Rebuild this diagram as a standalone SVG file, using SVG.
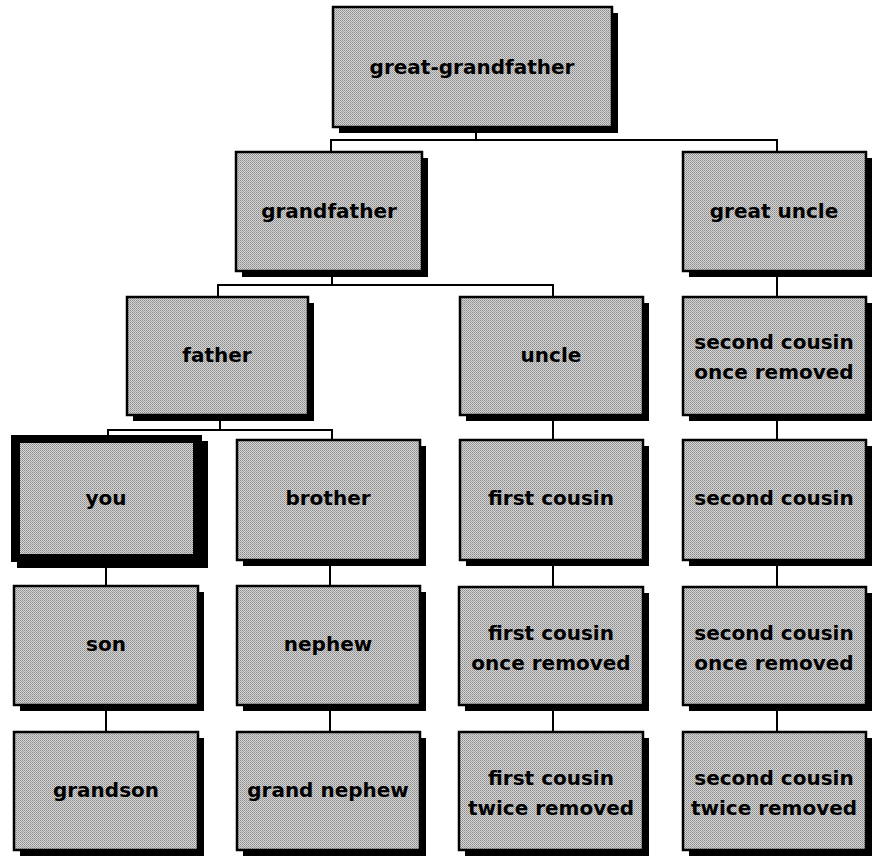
<svg xmlns="http://www.w3.org/2000/svg" width="873" height="856" viewBox="0 0 873 856">
<defs>
<pattern id="dither" width="2" height="2" patternUnits="userSpaceOnUse">
<rect width="2" height="2" fill="#d6d6d6"/>
<rect width="1" height="1" fill="#8a8a8a"/>
<rect x="1" y="1" width="1" height="1" fill="#a0a0a0"/>
</pattern>
</defs>
<style>
.sh{fill:#000}
.bx{fill:url(#dither);stroke:#000;stroke-width:2.5}
.t{font-family:"DejaVu Sans","Liberation Sans",sans-serif;font-size:20px;font-weight:bold;fill:#000;text-anchor:middle}
.c{fill:none;stroke:#000;stroke-width:2}
</style>
<rect width="873" height="856" fill="#fff"/>
<g id="connectors">
<path class="c" d="M476 127V140M331 152V140H777V152"/>
<path class="c" d="M332 271V285M218 297V285H553V297"/>
<path class="c" d="M220 415V430M108 435V430H332V440"/>
<path class="c" d="M106 562V586M106 705V732"/>
<path class="c" d="M330 560V586M330 705V732"/>
<path class="c" d="M553 415V440M553 560V587M553 705V732"/>
<path class="c" d="M777 271V297M777 415V440M777 560V587M777 705V732"/>
</g>
<g id="great-grandfather"><rect class="sh" x="339" y="13" width="279" height="120"/><rect class="bx" x="333" y="7" width="279" height="120"/><text class="t" x="472" y="74">great-grandfather</text></g>
<g id="grandfather"><rect class="sh" x="242" y="158" width="186" height="119"/><rect class="bx" x="236" y="152" width="186" height="119"/><text class="t" x="329" y="218">grandfather</text></g>
<g id="great-uncle"><rect class="sh" x="689" y="158" width="183" height="119"/><rect class="bx" x="683" y="152" width="183" height="119"/><text class="t" x="774" y="218">great uncle</text></g>
<g id="father"><rect class="sh" x="133" y="303" width="181" height="118"/><rect class="bx" x="127" y="297" width="181" height="118"/><text class="t" x="217" y="362">father</text></g>
<g id="uncle"><rect class="sh" x="466" y="303" width="183" height="118"/><rect class="bx" x="460" y="297" width="183" height="118"/><text class="t" x="551" y="362">uncle</text></g>
<g id="second-cousin-once-removed-a"><rect class="sh" x="689" y="303" width="183" height="118"/><rect class="bx" x="683" y="297" width="183" height="118"/><text class="t" x="774" y="349">second cousin</text><text class="t" x="774" y="379">once removed</text></g>
<g id="you"><rect class="sh" x="17" y="441" width="191" height="127"/><rect x="11" y="435" width="191" height="127" fill="#000"/><rect x="20" y="443" width="173" height="111" fill="url(#dither)"/><text class="t" x="106" y="505">you</text></g>
<g id="brother"><rect class="sh" x="243" y="446" width="183" height="120"/><rect class="bx" x="237" y="440" width="183" height="120"/><text class="t" x="328" y="505">brother</text></g>
<g id="first-cousin"><rect class="sh" x="466" y="446" width="183" height="120"/><rect class="bx" x="460" y="440" width="183" height="120"/><text class="t" x="551" y="505">first cousin</text></g>
<g id="second-cousin"><rect class="sh" x="689" y="446" width="183" height="120"/><rect class="bx" x="683" y="440" width="183" height="120"/><text class="t" x="774" y="505">second cousin</text></g>
<g id="son"><rect class="sh" x="20" y="592" width="184" height="119"/><rect class="bx" x="14" y="586" width="184" height="119"/><text class="t" x="106" y="651">son</text></g>
<g id="nephew"><rect class="sh" x="243" y="592" width="183" height="119"/><rect class="bx" x="237" y="586" width="183" height="119"/><text class="t" x="328" y="651">nephew</text></g>
<g id="first-cousin-once-removed"><rect class="sh" x="465" y="593" width="184" height="118"/><rect class="bx" x="459" y="587" width="184" height="118"/><text class="t" x="551" y="640">first cousin</text><text class="t" x="551" y="670">once removed</text></g>
<g id="second-cousin-once-removed-b"><rect class="sh" x="689" y="593" width="183" height="118"/><rect class="bx" x="683" y="587" width="183" height="118"/><text class="t" x="774" y="640">second cousin</text><text class="t" x="774" y="670">once removed</text></g>
<g id="grandson"><rect class="sh" x="20" y="738" width="184" height="118"/><rect class="bx" x="14" y="732" width="184" height="118"/><text class="t" x="106" y="797">grandson</text></g>
<g id="grand-nephew"><rect class="sh" x="243" y="738" width="183" height="118"/><rect class="bx" x="237" y="732" width="183" height="118"/><text class="t" x="328" y="797">grand nephew</text></g>
<g id="first-cousin-twice-removed"><rect class="sh" x="465" y="738" width="184" height="118"/><rect class="bx" x="459" y="732" width="184" height="118"/><text class="t" x="551" y="785">first cousin</text><text class="t" x="551" y="815">twice removed</text></g>
<g id="second-cousin-twice-removed"><rect class="sh" x="689" y="738" width="183" height="118"/><rect class="bx" x="683" y="732" width="183" height="118"/><text class="t" x="774" y="785">second cousin</text><text class="t" x="774" y="815">twice removed</text></g>
</svg>
